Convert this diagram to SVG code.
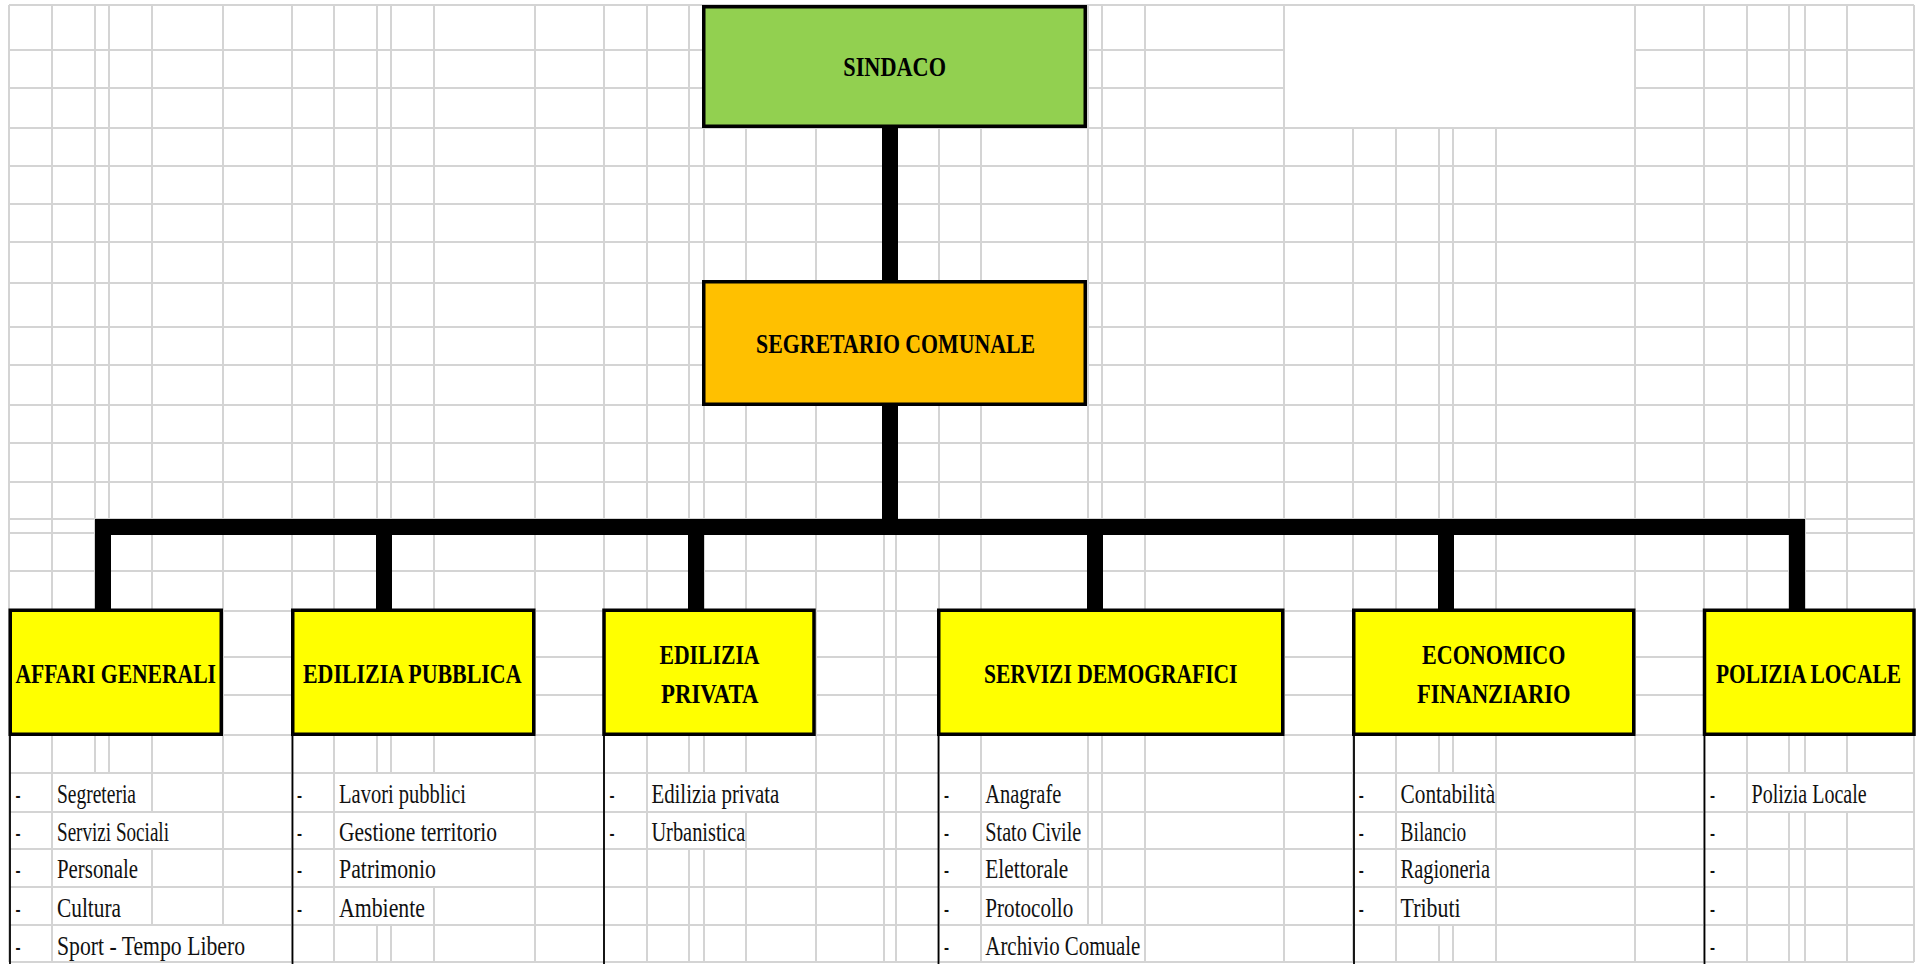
<svg xmlns="http://www.w3.org/2000/svg" width="1916" height="964" viewBox="0 0 1916 964">
<style>
.grid{stroke:#d4d4d4;stroke-width:2;fill:none}
.mask{fill:#ffffff}
.conn{fill:#000000}
.box{stroke:#000000;stroke-width:3.5}
.lbl{font-family:"Liberation Serif",serif;font-weight:bold;font-size:27px;fill:#000000}
.it{font-family:"Liberation Serif",serif;font-size:26.5px;fill:#111111}
.side{stroke:#000000;stroke-width:1.8}
</style>
<rect width="1916" height="964" fill="#ffffff"/>
<g id="grid">
<path class="grid" d="M9 5H1914M9 50H1914M9 88H1914M9 128H1914M9 166H1914M9 204H1914M9 242H1914M9 283H1914M9 327H1914M9 365H1914M9 405H1914M9 443H1914M9 482H1914M9 519H1914M9 533H1914M9 571H1914M9 611H1914M9 657H1914M9 695H1914M9 735H1914M9 773H1914M9 812H1914M9 849H1914M9 887H1914M9 925H1914M9 962H1914
M9 5V962M52 5V962M95 5V962M109 5V962M152 5V962M223 5V962M292 5V962M334 5V962M377 5V962M391 5V962M434 5V962M535 5V962M604 5V962M647 5V962M689 5V962M704 5V962M746 5V962M816 5V962M884 5V962M896 5V962M939 5V962M981 5V962M1088 5V962M1102 5V962M1145 5V962M1284 5V962M1353 5V962M1396 5V962M1439 5V962M1453 5V962M1496 5V962M1635 5V962M1704 5V962M1747 5V962M1789 5V962M1805 5V962M1847 5V962M1914 5V962"/>
<rect class="mask" x="1285" y="6" width="349" height="121"/>
<rect class="mask" x="53" y="774" width="98" height="37"/>
<rect class="mask" x="53" y="813" width="169" height="35"/>
<rect class="mask" x="53" y="850" width="98" height="36"/>
<rect class="mask" x="53" y="888" width="98" height="36"/>
<rect class="mask" x="53" y="926" width="238" height="35"/>
<rect class="mask" x="335" y="774" width="199" height="37"/>
<rect class="mask" x="335" y="813" width="199" height="35"/>
<rect class="mask" x="335" y="850" width="199" height="36"/>
<rect class="mask" x="335" y="888" width="98" height="36"/>
<rect class="mask" x="648" y="774" width="167" height="37"/>
<rect class="mask" x="648" y="813" width="97" height="35"/>
<rect class="mask" x="982" y="926" width="162" height="35"/>
<rect class="mask" x="1397" y="774" width="98" height="37"/>
<rect class="mask" x="1397" y="813" width="98" height="35"/>
<rect class="mask" x="1397" y="850" width="98" height="36"/>
<rect class="mask" x="1397" y="888" width="98" height="36"/>
<rect class="mask" x="1748" y="774" width="165" height="37"/>
</g>
<g id="connectors">
<rect class="conn" x="882" y="126" width="16" height="156"/>
<rect class="conn" x="882" y="404" width="16" height="131"/>
<rect class="conn" x="95" y="519" width="1710" height="16"/>
<rect class="conn" x="95" y="519" width="16" height="92"/>
<rect class="conn" x="376" y="519" width="16" height="92"/>
<rect class="conn" x="688" y="519" width="16" height="92"/>
<rect class="conn" x="1087" y="519" width="16" height="92"/>
<rect class="conn" x="1438" y="519" width="16" height="92"/>
<rect class="conn" x="1789" y="519" width="16" height="92"/>
</g>
<g id="sindaco">
<rect class="box" x="703.75" y="6.75" width="381.5" height="119.5" fill="#92d050"/>
<text class="lbl" x="843.3" y="76" textLength="102.7" lengthAdjust="spacingAndGlyphs">SINDACO</text>
</g>
<g id="segretario">
<rect class="box" x="703.75" y="281.75" width="381.5" height="122.5" fill="#ffc000"/>
<text class="lbl" x="756" y="353" textLength="279" lengthAdjust="spacingAndGlyphs">SEGRETARIO COMUNALE</text>
</g>
<g id="affari">
<rect class="box" x="10.25" y="610.25" width="211" height="124" fill="#ffff00"/>
<text class="lbl" x="15.5" y="683" textLength="200.5" lengthAdjust="spacingAndGlyphs">AFFARI GENERALI</text>
<line class="side" x1="10" y1="734" x2="10" y2="964"/>
<text class="it" x="15.5" y="803" textLength="5" lengthAdjust="spacingAndGlyphs">-</text>
<text class="it" x="15.5" y="841" textLength="5" lengthAdjust="spacingAndGlyphs">-</text>
<text class="it" x="15.5" y="878" textLength="5" lengthAdjust="spacingAndGlyphs">-</text>
<text class="it" x="15.5" y="917" textLength="5" lengthAdjust="spacingAndGlyphs">-</text>
<text class="it" x="15.5" y="955" textLength="5" lengthAdjust="spacingAndGlyphs">-</text>
<text class="it" x="57" y="803" textLength="79" lengthAdjust="spacingAndGlyphs">Segreteria</text>
<text class="it" x="57" y="841" textLength="112" lengthAdjust="spacingAndGlyphs">Servizi Sociali</text>
<text class="it" x="57" y="878" textLength="81" lengthAdjust="spacingAndGlyphs">Personale</text>
<text class="it" x="57" y="917" textLength="64" lengthAdjust="spacingAndGlyphs">Cultura</text>
<text class="it" x="57" y="955" textLength="188" lengthAdjust="spacingAndGlyphs">Sport - Tempo Libero</text>
</g>
<g id="edilizia-pubblica">
<rect class="box" x="292.75" y="610.25" width="241" height="124" fill="#ffff00"/>
<text class="lbl" x="303" y="683" textLength="218.5" lengthAdjust="spacingAndGlyphs">EDILIZIA PUBBLICA</text>
<line class="side" x1="292.5" y1="734" x2="292.5" y2="964"/>
<text class="it" x="297" y="803" textLength="5" lengthAdjust="spacingAndGlyphs">-</text>
<text class="it" x="297" y="841" textLength="5" lengthAdjust="spacingAndGlyphs">-</text>
<text class="it" x="297" y="878" textLength="5" lengthAdjust="spacingAndGlyphs">-</text>
<text class="it" x="297" y="917" textLength="5" lengthAdjust="spacingAndGlyphs">-</text>
<text class="it" x="339" y="803" textLength="127" lengthAdjust="spacingAndGlyphs">Lavori pubblici</text>
<text class="it" x="339" y="841" textLength="158" lengthAdjust="spacingAndGlyphs">Gestione territorio</text>
<text class="it" x="339" y="878" textLength="97" lengthAdjust="spacingAndGlyphs">Patrimonio</text>
<text class="it" x="339" y="917" textLength="86" lengthAdjust="spacingAndGlyphs">Ambiente</text>
</g>
<g id="edilizia-privata">
<rect class="box" x="604" y="610.25" width="210" height="124" fill="#ffff00"/>
<text class="lbl" x="659.5" y="664" textLength="100" lengthAdjust="spacingAndGlyphs">EDILIZIA</text>
<text class="lbl" x="661" y="703" textLength="97.6" lengthAdjust="spacingAndGlyphs">PRIVATA</text>
<line class="side" x1="604" y1="734" x2="604" y2="964"/>
<text class="it" x="609.5" y="803" textLength="5" lengthAdjust="spacingAndGlyphs">-</text>
<text class="it" x="609.5" y="841" textLength="5" lengthAdjust="spacingAndGlyphs">-</text>
<text class="it" x="651.4" y="803" textLength="128" lengthAdjust="spacingAndGlyphs">Edilizia privata</text>
<text class="it" x="651.4" y="841" textLength="94" lengthAdjust="spacingAndGlyphs">Urbanistica</text>
</g>
<g id="servizi-demografici">
<rect class="box" x="938.75" y="610.25" width="344" height="124" fill="#ffff00"/>
<text class="lbl" x="984" y="683" textLength="253.5" lengthAdjust="spacingAndGlyphs">SERVIZI DEMOGRAFICI</text>
<line class="side" x1="938.5" y1="734" x2="938.5" y2="964"/>
<text class="it" x="944" y="803" textLength="5" lengthAdjust="spacingAndGlyphs">-</text>
<text class="it" x="944" y="841" textLength="5" lengthAdjust="spacingAndGlyphs">-</text>
<text class="it" x="944" y="878" textLength="5" lengthAdjust="spacingAndGlyphs">-</text>
<text class="it" x="944" y="917" textLength="5" lengthAdjust="spacingAndGlyphs">-</text>
<text class="it" x="944" y="955" textLength="5" lengthAdjust="spacingAndGlyphs">-</text>
<text class="it" x="985.3" y="803" textLength="76" lengthAdjust="spacingAndGlyphs">Anagrafe</text>
<text class="it" x="985.3" y="841" textLength="96" lengthAdjust="spacingAndGlyphs">Stato Civile</text>
<text class="it" x="985.3" y="878" textLength="83" lengthAdjust="spacingAndGlyphs">Elettorale</text>
<text class="it" x="985.3" y="917" textLength="88" lengthAdjust="spacingAndGlyphs">Protocollo</text>
<text class="it" x="985.3" y="955" textLength="155" lengthAdjust="spacingAndGlyphs">Archivio Comuale</text>
</g>
<g id="economico-finanziario">
<rect class="box" x="1353.75" y="610.25" width="280" height="124" fill="#ffff00"/>
<text class="lbl" x="1422" y="664" textLength="143.4" lengthAdjust="spacingAndGlyphs">ECONOMICO</text>
<text class="lbl" x="1417" y="703" textLength="153.5" lengthAdjust="spacingAndGlyphs">FINANZIARIO</text>
<line class="side" x1="1354" y1="734" x2="1354" y2="964"/>
<text class="it" x="1358.7" y="803" textLength="5" lengthAdjust="spacingAndGlyphs">-</text>
<text class="it" x="1358.7" y="841" textLength="5" lengthAdjust="spacingAndGlyphs">-</text>
<text class="it" x="1358.7" y="878" textLength="5" lengthAdjust="spacingAndGlyphs">-</text>
<text class="it" x="1358.7" y="917" textLength="5" lengthAdjust="spacingAndGlyphs">-</text>
<text class="it" x="1400.6" y="803" textLength="94.6" lengthAdjust="spacingAndGlyphs">Contabilità</text>
<text class="it" x="1400.6" y="841" textLength="65.7" lengthAdjust="spacingAndGlyphs">Bilancio</text>
<text class="it" x="1400.6" y="878" textLength="89.5" lengthAdjust="spacingAndGlyphs">Ragioneria</text>
<text class="it" x="1400.6" y="917" textLength="60" lengthAdjust="spacingAndGlyphs">Tributi</text>
</g>
<g id="polizia-locale">
<rect class="box" x="1704.5" y="610.25" width="209.5" height="124" fill="#ffff00"/>
<text class="lbl" x="1716" y="683" textLength="185" lengthAdjust="spacingAndGlyphs">POLIZIA LOCALE</text>
<line class="side" x1="1704.5" y1="734" x2="1704.5" y2="964"/>
<text class="it" x="1710" y="803" textLength="5" lengthAdjust="spacingAndGlyphs">-</text>
<text class="it" x="1710" y="841" textLength="5" lengthAdjust="spacingAndGlyphs">-</text>
<text class="it" x="1710" y="878" textLength="5" lengthAdjust="spacingAndGlyphs">-</text>
<text class="it" x="1710" y="917" textLength="5" lengthAdjust="spacingAndGlyphs">-</text>
<text class="it" x="1710" y="955" textLength="5" lengthAdjust="spacingAndGlyphs">-</text>
<text class="it" x="1751.6" y="803" textLength="115" lengthAdjust="spacingAndGlyphs">Polizia Locale</text>
</g>
</svg>
